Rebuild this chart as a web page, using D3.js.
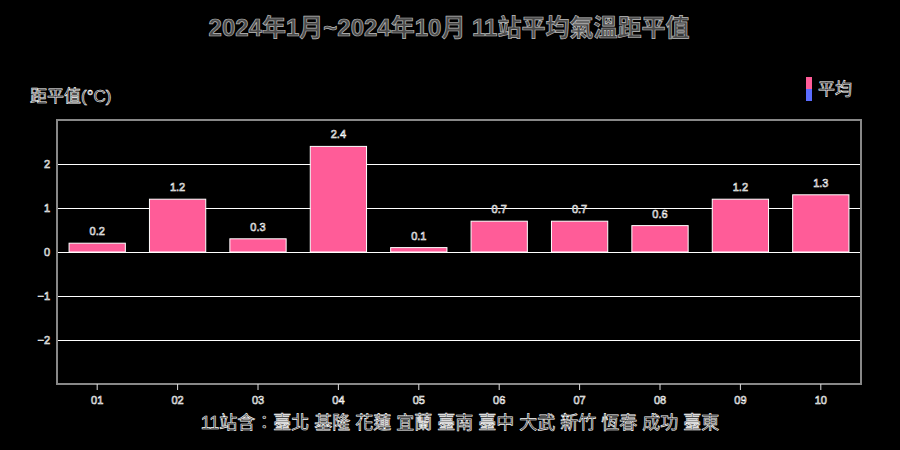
<!DOCTYPE html>
<html><head><meta charset="utf-8">
<script src="https://cdn.jsdelivr.net/npm/d3@7/dist/d3.min.js"></script>
<style>
html,body{margin:0;padding:0;background:#000;}
svg{display:block;}
text{font-family:"Liberation Sans","Noto Sans CJK TC",sans-serif;}
.o{fill:#222;stroke:#fff;stroke-width:0.6px;}
</style></head><body>
<svg id="c" width="900" height="450"></svg>
<script>
const months = ["01","02","03","04","05","06","07","08","09","10"];
const values = [0.2,1.2,0.3,2.4,0.1,0.7,0.7,0.6,1.2,1.3];
const yTicks = [-2,-1,0,1,2];
const titleText = "2024年1月~2024年10月 11站平均氣溫距平值";
const yLabel = "距平值(°C)";
const legendLabel = "平均";
const footerText = "11站含：臺北 基隆 花蓮 宜蘭 臺南 臺中 大武 新竹 恆春 成功 臺東";

const svg = d3.select("#c");
const m = {l:57,r:39,t:120,b:66};
const W = 900, H = 450;
const x = d3.scaleBand().domain(months).range([m.l, W-m.r]).paddingInner(0.3).paddingOuter(0.15);
const y = d3.scaleLinear().domain([-3,3]).range([H-m.b, m.t]);

// grid
svg.append("g").selectAll("line").data(yTicks).join("line")
  .attr("x1",m.l).attr("x2",W-m.r)
  .attr("y1",d=>Math.round(y(d))+0.5).attr("y2",d=>Math.round(y(d))+0.5)
  .attr("stroke","#fff").attr("stroke-width",1);

// bars
const bw = x.bandwidth();
svg.append("g").selectAll("rect").data(values).join("rect")
  .attr("x",(d,i)=>x(months[i]))
  .attr("y",d=>y(Math.max(0,d)))
  .attr("width",bw)
  .attr("height",d=>Math.abs(y(d)-y(0)))
  .attr("fill","#ff5c98").attr("stroke","#fff").attr("stroke-width",1);

// bar labels
svg.append("g").selectAll("text").data(values).join("text")
  .attr("class","o")
  .attr("x",(d,i)=>x(months[i])+bw/2)
  .attr("y",d=>y(d)-8)
  .attr("text-anchor","middle").attr("font-size",11)
  .text(d=>d.toFixed(1));

// frame
svg.append("rect").attr("x",m.l).attr("y",m.t).attr("width",W-m.r-m.l).attr("height",H-m.b-m.t)
  .attr("fill","none").attr("stroke","#888").attr("stroke-width",2);

// y axis labels
const ya = svg.append("g").attr("transform",`translate(${m.l},0)`)
  .call(d3.axisLeft(y).tickValues(yTicks).tickSize(0).tickPadding(7).tickFormat(d3.format("d")));
ya.select(".domain").remove();
ya.selectAll("text").attr("class","o").attr("font-size",11).attr("font-family",null);

// x axis
const xa = svg.append("g").attr("transform",`translate(0,${H-m.b})`)
  .call(d3.axisBottom(x).tickSize(6).tickPadding(6));
xa.select(".domain").remove();
xa.selectAll("line").attr("stroke","#ddd");
xa.selectAll("text").attr("class","o").attr("font-size",11).attr("font-family",null);

// title
svg.append("text").attr("class","o").attr("x",449).attr("y",36)
  .attr("text-anchor","middle").attr("font-size",24).attr("font-weight","bold")
  .style("fill","#4a4a4a").style("stroke","#bbb").style("stroke-width","0.7px")
  .text(titleText);

// y label
svg.append("text").attr("class","o").attr("x",30).attr("y",102)
  .attr("font-size",17).text(yLabel);

// legend
const lg = svg.append("g");
lg.append("rect").attr("x",806).attr("y",77).attr("width",6).attr("height",12).attr("fill","#ff5c98");
lg.append("rect").attr("x",806).attr("y",89).attr("width",6).attr("height",12).attr("fill","#5b6cff");
lg.append("text").attr("class","o").attr("x",818).attr("y",95).attr("font-size",17).text(legendLabel);

// footer
svg.append("text").attr("class","o").attr("x",460).attr("y",429)
  .attr("text-anchor","middle").attr("font-size",18).text(footerText);
</script></body></html>
